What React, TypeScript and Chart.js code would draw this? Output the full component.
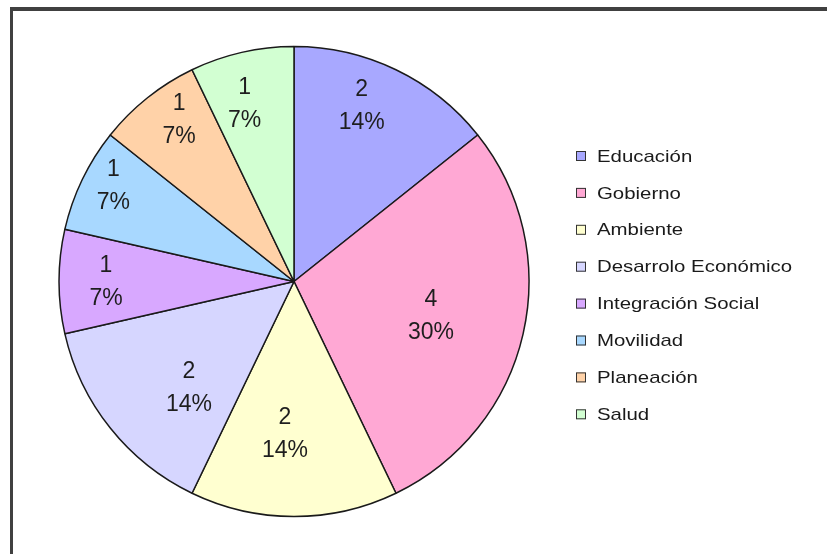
import React, { useEffect, useRef } from "react";
import { Chart, registerables } from "chart.js";

Chart.register(...registerables);

const categories = [
  "Educación",
  "Gobierno",
  "Ambiente",
  "Desarrolo Económico",
  "Integración Social",
  "Movilidad",
  "Planeación",
  "Salud",
];
const values = [2, 4, 2, 2, 1, 1, 1, 1];
const percentLabels = ["14%", "30%", "14%", "14%", "7%", "7%", "7%", "7%"];
const colors = [
  "#a8a8ff",
  "#ffa8d4",
  "#ffffd0",
  "#d6d6ff",
  "#d8a8ff",
  "#a8d8ff",
  "#ffd2a8",
  "#d2ffd2",
];
// label placement style: distance from center (fraction of radius) and angle nudge (deg)
const labelRadius = [0.8, 0.6, 0.65, 0.635, 0.8, 0.87, 0.845, 0.785];
const labelAngleNudge = [-4.6, 1, 3.4, -6.7, 0, 2.2, 3.2, -2.7];

const FONT = "'Liberation Sans', Arial, sans-serif";

const framePlugin = {
  id: "frame",
  beforeDraw(chart: any) {
    const ctx = chart.ctx;
    ctx.save();
    ctx.fillStyle = "#ffffff";
    ctx.fillRect(0, 0, chart.width, chart.height);
    ctx.fillStyle = "#404040";
    ctx.fillRect(10, 7, chart.width - 10, 4);
    ctx.fillRect(10, 7, 3, chart.height - 7);
    ctx.restore();
  },
};

const labelsPlugin = {
  id: "sliceLabels",
  afterDatasetsDraw(chart: any) {
    const ctx = chart.ctx;
    const meta = chart.getDatasetMeta(0);
    ctx.save();
    ctx.fillStyle = "#1e1e1e";
    ctx.font = `23px ${FONT}`;
    ctx.textAlign = "center";
    ctx.textBaseline = "middle";
    meta.data.forEach((arc: any, i: number) => {
      const p = arc.getProps(["x", "y", "startAngle", "endAngle", "outerRadius"], true);
      const mid = (p.startAngle + p.endAngle) / 2 + (labelAngleNudge[i] * Math.PI) / 180;
      const r = p.outerRadius * labelRadius[i];
      const cx = p.x + Math.cos(mid) * r;
      const cy = p.y + Math.sin(mid) * r;
      ctx.fillText(String(values[i]), cx, cy - 16);
      ctx.fillText(percentLabels[i], cx, cy + 17);
    });
    ctx.restore();
  },
};

const legendPlugin = {
  id: "customLegend",
  afterDraw(chart: any) {
    const ctx = chart.ctx;
    ctx.save();
    const x0 = 576;
    const y0 = 156;
    const step = 36.9;
    categories.forEach((label, i) => {
      const y = y0 + i * step;
      ctx.fillStyle = colors[i];
      ctx.fillRect(x0, y - 5, 10, 10);
      ctx.strokeStyle = "#333333";
      ctx.lineWidth = 1;
      ctx.strokeRect(x0 + 0.5, y - 4.5, 9, 9);
      ctx.fillStyle = "#1a1a1a";
      ctx.font = `17px ${FONT}`;
      ctx.textAlign = "left";
      ctx.textBaseline = "middle";
      ctx.save();
      ctx.translate(597, y + 1);
      ctx.scale(1.2, 1);
      ctx.fillText(label, 0, 0);
      ctx.restore();
    });
    ctx.restore();
  },
};

export default function App() {
  const ref = useRef<HTMLCanvasElement | null>(null);
  useEffect(() => {
    document.body.style.margin = "0";
    if (!ref.current) return;
    const chart = new Chart(ref.current, {
      type: "pie",
      data: {
        labels: categories,
        datasets: [
          {
            data: values,
            backgroundColor: colors,
            borderColor: "#1a1a1a",
            borderWidth: 1.5,
            radius: 235,
          },
        ],
      },
      options: {
        responsive: false,
        animation: false,
        devicePixelRatio: 1,
        layout: { padding: { left: 40, right: 279, top: 40, bottom: 31 } },
        plugins: {
          legend: { display: false },
          tooltip: { enabled: false },
        },
      } as any,
      plugins: [framePlugin, labelsPlugin, legendPlugin],
    });
    return () => chart.destroy();
  }, []);
  return (
    <div style={{ position: "absolute", left: 0, top: 0, width: 827, height: 554 }}>
      <canvas ref={ref} width={827} height={554} />
    </div>
  );
}
